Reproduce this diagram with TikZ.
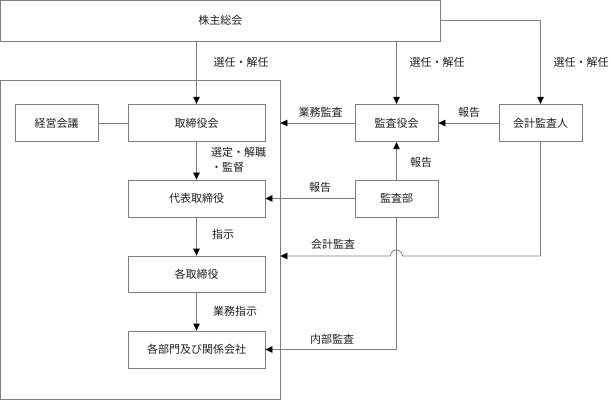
\documentclass[tikz,border=0pt]{standalone}
\usepackage{fontspec}
\newfontfamily\jp{Noto Sans CJK JP}
\usetikzlibrary{arrows.meta,calc}
\definecolor{lc}{RGB}{125,125,125}
\definecolor{tc}{RGB}{30,30,30}
\begin{document}
\begin{tikzpicture}[x=1pt,y=1pt,
  every node/.style={font=\jp\fontsize{11}{15}\selectfont, text=tc},
  box/.style={draw=lc, line width=0.8pt, rectangle, inner sep=0pt, minimum width=#1},
  box/.default=83pt,
  bh/.style={minimum height=37.5pt},
  lbl/.style={inner sep=0pt},
  conn/.style={draw=lc, line width=0.8pt},
  arr/.style={conn, -{Triangle[length=7pt,width=6.5pt,color=black]}}]
\useasboundingbox (0,0) rectangle (611,-401);
% outer shapes
\node[box=439.5pt, minimum height=40.5pt] (kabu) at (220.25,-20.75) {株主総会};
\node[box=279.5pt, minimum height=319.5pt] (big) at (140.25,-239.75) {};
% boxes
\node[box=83pt, bh] (keiei) at (56.5,-123) {経営会議};
\node[box=137pt, bh] (tori) at (196.5,-123) {取締役会};
\node[box=83pt, bh] (kansa) at (396.5,-123) {監査役会};
\node[box=83pt, bh] (kaikei) at (540.5,-123) {会計監査人};
\node[box=137pt, minimum height=37pt] (daihyo) at (196.5,-198.5) {代表取締役};
\node[box=83pt, minimum height=37pt] (kansabu) at (396.5,-198.5) {監査部};
\node[box=137pt, minimum height=36pt] (kaku) at (196.5,-274) {各取締役};
\node[box=137pt, minimum height=37pt] (bumon) at (196.5,-349.5) {各部門及び関係会社};
% connectors
\draw[arr] (tori.north |- kabu.south) -- (tori.north);
\draw[arr] (kansa.north |- kabu.south) -- (kansa.north);
\draw[arr] (kabu.east) -- (kaikei.north |- kabu.east) -- (kaikei.north);
\draw[arr] (kaikei.west) -- (kansa.east);
\draw[arr] (kansa.west) -- (big.east |- kansa.west);
\draw[conn] (keiei.east) -- (tori.west);
\draw[arr] (tori.south) -- (daihyo.north);
\draw[arr] (kansabu.north) -- (kansa.south);
\draw[arr] (kansabu.west) -- (daihyo.east);
\draw[arr] (daihyo.south) -- (kaku.north);
\draw[arr] (kaku.south) -- (bumon.north);
\draw[arr] (kansabu.south) -- (kansabu.south |- bumon.east) -- (bumon.east);
\coordinate (kl) at (0,-256);
\draw[arr] (kaikei.south) -- (kaikei.south |- kl) -- ($(kansabu.south |- kl)+(6,0)$) arc (0:180:6) -- (big.east |- kl);
% labels
\node[lbl] (l1) at (241,-62) {選任・解任};
\node[lbl] (l2) at (437,-62) {選任・解任};
\node[lbl] (l3) at (581,-62) {選任・解任};
\node[lbl] (l4) at (320.5,-112) {業務監査};
\node[lbl] (l5) at (469,-112) {報告};
\node[lbl, anchor=north west, align=left] (l6) at (211,-147) {選定・解職\\・監督};
\node[lbl] (l7) at (421,-162) {報告};
\node[lbl] (l8) at (320,-187) {報告};
\node[lbl] (l9) at (223,-234) {指示};
\node[lbl] (l10) at (333,-244) {会計監査};
\node[lbl] (l11) at (235,-311) {業務指示};
\node[lbl] (l12) at (332,-339) {内部監査};
\end{tikzpicture}
\end{document}
